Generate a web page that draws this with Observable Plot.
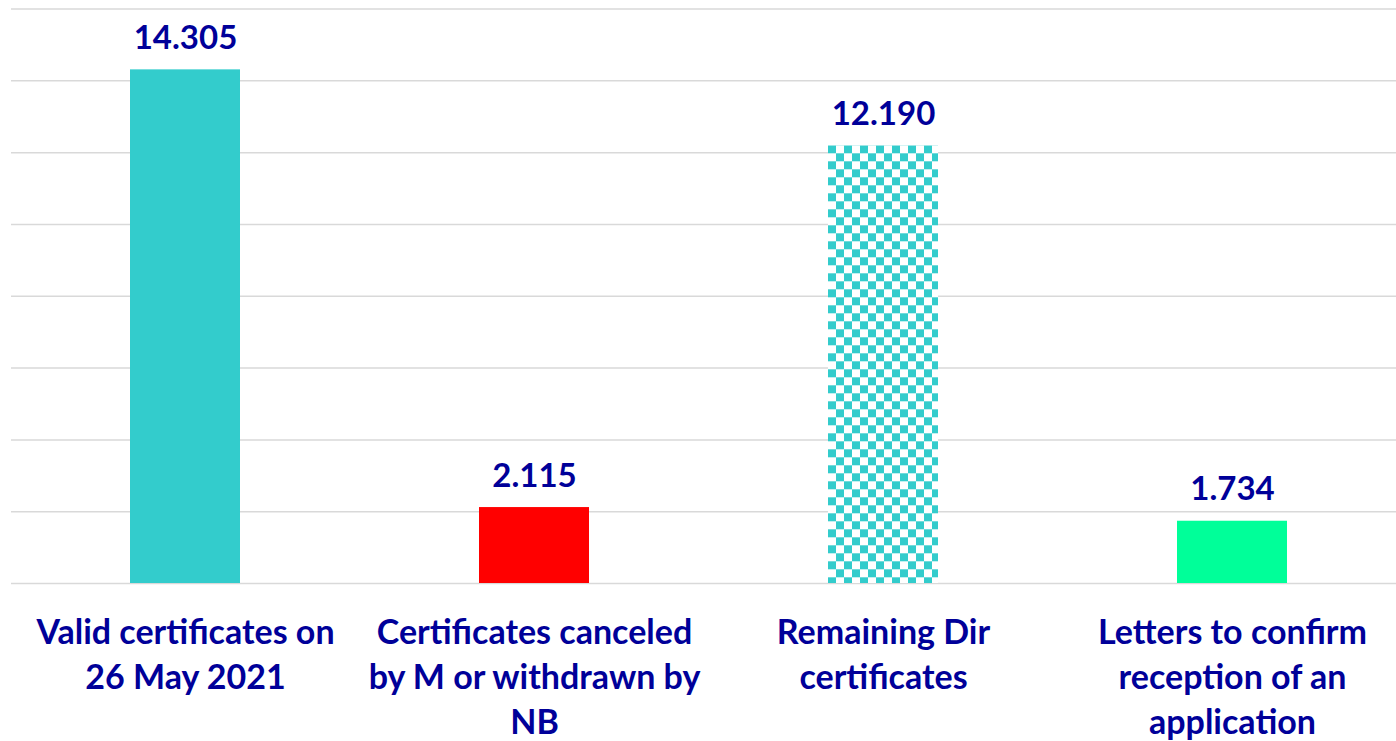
<!DOCTYPE html>
<html>
<head>
<meta charset="utf-8">
<script src="https://cdn.jsdelivr.net/npm/d3@7"></script>
<script src="https://cdn.jsdelivr.net/npm/@observablehq/plot@0.6"></script>
<style>
  html, body { margin: 0; padding: 0; background: #fff; }
  #chart { width: 1396px; height: 741px; overflow: hidden; }
</style>
</head>
<body>
<div id="chart"></div>
<script>
const categories = [
  "Valid certificates on\n26 May 2021",
  "Certificates canceled\nby M or withdrawn by\nNB",
  "Remaining Dir\ncertificates",
  "Letters to confirm\nreception of an\napplication"
];
const values = [14305, 2115, 12190, 1734];
const valueLabels = ["14.305", "2.115", "12.190", "1.734"];
const fills = ["#33CCCC", "#FF0000", "url(#checker)", "#00FF99"];
const yTicks = [0, 2000, 4000, 6000, 8000, 10000, 12000, 14000, 16000];

const data = categories.map((c, i) => ({cat: c, value: values[i], label: valueLabels[i], fill: fills[i]}));

const textColor = "#000099";
const font = "Lato, 'Open Sans', sans-serif";

const chart = Plot.plot({
  width: 1396,
  height: 741,
  marginLeft: 11,
  marginRight: 0,
  marginTop: 8,
  marginBottom: 158,
  style: {fontFamily: font, background: "#fff"},
  x: {domain: categories, range: [10.3, 1407.5], paddingInner: 0.685, paddingOuter: 0.3425, axis: null},
  y: {domain: [0, 16000], range: [583, 8.5], axis: null},
  color: {type: "identity"},
  marks: [
    Plot.ruleY(yTicks, {stroke: "#D9D9D9", strokeWidth: 1.5}),
    Plot.barY(data, {x: "cat", y: "value", fill: "fill"}),
    Plot.text(data, {x: "cat", y: "value", text: "label", lineAnchor: "bottom", dy: -21,
      fill: textColor, fontSize: 33, fontWeight: "bold"}),
    Plot.text(data, {x: "cat", y: () => 0, text: "cat", lineAnchor: "top", dy: 29,
      lineHeight: 45 / 34, fill: textColor, fontSize: 34, fontWeight: "bold"})
  ]
});

// add checkerboard pattern
const svgNS = "http://www.w3.org/2000/svg";
const defs = document.createElementNS(svgNS, "defs");
const pat = document.createElementNS(svgNS, "pattern");
pat.setAttribute("id", "checker");
pat.setAttribute("patternUnits", "userSpaceOnUse");
pat.setAttribute("width", "16");
pat.setAttribute("height", "16");
const xs = chart.scale("x");
const ys = chart.scale("y");
pat.setAttribute("x", xs.apply(categories[2]));
pat.setAttribute("y", ys.apply(values[2]));
const bg = document.createElementNS(svgNS, "rect");
bg.setAttribute("width", "16"); bg.setAttribute("height", "16"); bg.setAttribute("fill", "#fff");
pat.appendChild(bg);
for (const [px, py] of [[0, 0], [8, 8]]) {
  const r = document.createElementNS(svgNS, "rect");
  r.setAttribute("x", px); r.setAttribute("y", py);
  r.setAttribute("width", "8"); r.setAttribute("height", "8");
  r.setAttribute("fill", "#33CCCC");
  pat.appendChild(r);
}
defs.appendChild(pat);
chart.insertBefore(defs, chart.firstChild);

document.getElementById("chart").appendChild(chart);
</script>
</body>
</html>
